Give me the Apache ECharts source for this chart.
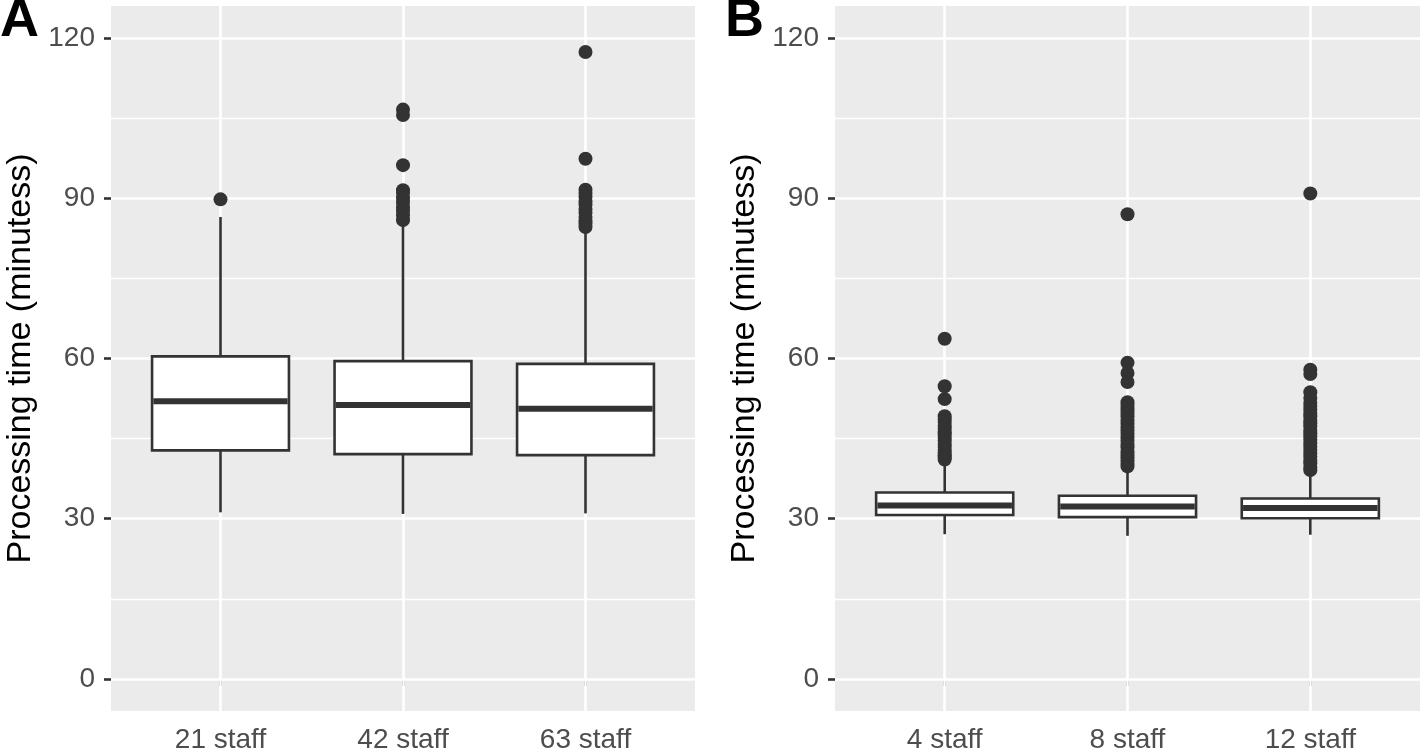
<!DOCTYPE html>
<html>
<head>
<meta charset="utf-8">
<script src="https://cdn.jsdelivr.net/npm/echarts@6/dist/echarts.min.js"></script>
<style>
html,body{margin:0;padding:0;background:#fff;}
#chart{width:1423px;height:748px;}
</style>
</head>
<body>
<div id="chart"></div>
<script>
// ---------------- DATA ----------------
const categoriesA = ['21 staff', '42 staff', '63 staff'];
const categoriesB = ['4 staff', '8 staff', '12 staff'];
const yTicks = [0, 30, 60, 90, 120];
const yMinorTicks = [15, 45, 75, 105];
const panelLabels = ['A', 'B'];
const yTitle = 'Processing time (minutess)';

// box stats: [lower whisker, Q1, median, Q3, upper whisker]
const boxA21 = [31.2, 42.8, 52.0, 60.4, 86.5];
const boxA42 = [30.9, 42.1, 51.3, 59.5, 85.3];
const boxA63 = [31.0, 41.9, 50.6, 59.0, 83.6];
const boxB4  = [27.1, 30.7, 32.5, 34.9, 40.8];
const boxB8  = [26.8, 30.3, 32.3, 34.3, 39.5];
const boxB12 = [27.0, 30.1, 32.0, 33.8, 38.6];

// outliers
const outA21 = [89.8];
const outA42 = [106.6, 105.6, 96.2, 91.5, 91.0, 90.0, 89.2, 88.3, 87.6, 86.8, 85.9];
const outA63 = [117.4, 97.4, 91.6, 91.0, 90.3, 89.4, 88.8, 88.0, 87.3, 86.5, 85.8, 85.3, 84.6];
const outB4  = [63.7, 54.8, 52.4, 49.2, 48.6, 48.1, 47.4, 46.9, 46.2, 45.8, 45.1, 44.6, 44.0, 43.5, 42.9, 42.4, 41.9, 41.5, 41.1];
const outB8  = [87.0, 59.2, 57.3, 55.6, 51.8, 51.2, 50.5, 49.9, 49.2, 48.4, 47.8, 47.1, 46.5, 45.9, 45.2, 44.6, 44.0, 43.4, 42.7, 42.1, 41.5, 40.9, 40.3, 39.8];
const outB12 = [90.9, 57.9, 57.1, 53.7, 52.6, 51.7, 51.1, 50.4, 49.8, 49.2, 48.5, 47.9, 47.3, 46.6, 46.0, 45.4, 44.8, 44.1, 43.5, 42.9, 42.2, 41.6, 41.0, 40.4, 39.7, 39.1];

// ---------------- STYLE ----------------
const INK = '#333333';
const FONT = '"Liberation Sans", Arial, Helvetica, sans-serif';
const BOX_WIDTH = 0.75;

function boxRows(boxes) {
  return boxes.map((b, i) => [i + 1].concat(b));
}
function outRows(lists) {
  const rows = [];
  lists.forEach((l, i) => l.forEach(v => rows.push([i + 1, v])));
  return rows;
}

function renderBox(params, api) {
  const x = api.value(0);
  const lo = api.coord([x, api.value(1)]);
  const q1 = api.coord([x, api.value(2)]);
  const md = api.coord([x, api.value(3)]);
  const q3 = api.coord([x, api.value(4)]);
  const hi = api.coord([x, api.value(5)]);
  const hw = api.size([BOX_WIDTH, 0])[0] / 2;
  const cx = q1[0];
  return {
    type: 'group',
    children: [
      {type: 'line', shape: {x1: cx, y1: lo[1], x2: cx, y2: q1[1]}, style: {stroke: INK, lineWidth: 2.6}},
      {type: 'line', shape: {x1: cx, y1: q3[1], x2: cx, y2: hi[1]}, style: {stroke: INK, lineWidth: 2.6}},
      {type: 'rect', shape: {x: cx - hw, y: q3[1], width: hw * 2, height: q1[1] - q3[1]},
        style: {fill: '#ffffff', stroke: INK, lineWidth: 2.6}},
      {type: 'line', shape: {x1: cx - hw + 1.3, y1: md[1], x2: cx + hw - 1.3, y2: md[1]}, style: {stroke: INK, lineWidth: 6}}
    ]
  };
}

function gridMarkLine() {
  const data = [];
  yTicks.forEach(v => data.push({yAxis: v, lineStyle: {width: 2.6}}));
  yMinorTicks.forEach(v => data.push({yAxis: v, lineStyle: {width: 1.3}}));
  [1, 2, 3].forEach(v => data.push({xAxis: v, lineStyle: {width: 2.6}}));
  return {
    silent: true, symbol: 'none', z: 1, animation: false,
    label: {show: false},
    lineStyle: {color: '#ffffff', type: 'solid'},
    emphasis: {disabled: true},
    data: data
  };
}

function xAxisFor(idx, cats) {
  return {
    type: 'value', gridIndex: idx, min: 0.4, max: 3.6,
    axisLine: {show: false},
    splitLine: {show: false},
    axisTick: {show: true, customValues: [1, 2, 3], length: 7, lineStyle: {color: INK, width: 2.6}},
    axisLabel: {show: true, customValues: [1, 2, 3], margin: 15, color: '#4D4D4D', fontSize: 28, fontFamily: FONT,
      formatter: v => cats[Math.round(v) - 1]}
  };
}
function yAxisFor(idx) {
  return {
    type: 'value', gridIndex: idx, min: -6, max: 126,
    name: yTitle, nameLocation: 'middle', nameRotate: 90, nameGap: 73,
    nameTextStyle: {color: '#000000', fontSize: 34, fontFamily: FONT},
    axisLine: {show: false},
    splitLine: {show: false},
    axisTick: {show: true, customValues: yTicks, length: 7, lineStyle: {color: INK, width: 2.6}},
    axisLabel: {show: true, customValues: yTicks, margin: 16, color: '#4D4D4D', fontSize: 28, fontFamily: FONT}
  };
}

const option = {
  animation: false,
  backgroundColor: '#ffffff',
  title: [
    {text: panelLabels[0], left: 0, top: -6, padding: 0,
      textStyle: {fontSize: 54, fontWeight: 'bold', color: '#000', fontFamily: FONT}},
    {text: panelLabels[1], left: 725, top: -6, padding: 0,
      textStyle: {fontSize: 54, fontWeight: 'bold', color: '#000', fontFamily: FONT}}
  ],
  grid: [
    {left: 111, top: 6, width: 584, height: 705, show: true, backgroundColor: '#EBEBEB', borderWidth: 0,
      outerBoundsMode: 'none', containLabel: false},
    {left: 835, top: 6, width: 585, height: 705, show: true, backgroundColor: '#EBEBEB', borderWidth: 0,
      outerBoundsMode: 'none', containLabel: false}
  ],
  xAxis: [xAxisFor(0, categoriesA), xAxisFor(1, categoriesB)],
  yAxis: [yAxisFor(0), yAxisFor(1)],
  series: [
    {type: 'scatter', xAxisIndex: 0, yAxisIndex: 0, data: [], z: 1, silent: true, markLine: gridMarkLine()},
    {type: 'scatter', xAxisIndex: 1, yAxisIndex: 1, data: [], z: 1, silent: true, markLine: gridMarkLine()},
    {type: 'custom', xAxisIndex: 0, yAxisIndex: 0, z: 5, renderItem: renderBox,
      encode: {x: 0, y: [1, 2, 3, 4, 5]}, data: boxRows([boxA21, boxA42, boxA63])},
    {type: 'custom', xAxisIndex: 1, yAxisIndex: 1, z: 5, renderItem: renderBox,
      encode: {x: 0, y: [1, 2, 3, 4, 5]}, data: boxRows([boxB4, boxB8, boxB12])},
    {type: 'scatter', xAxisIndex: 0, yAxisIndex: 0, z: 6, symbol: 'circle', symbolSize: 14,
      itemStyle: {color: INK, opacity: 1}, data: outRows([outA21, outA42, outA63])},
    {type: 'scatter', xAxisIndex: 1, yAxisIndex: 1, z: 6, symbol: 'circle', symbolSize: 14,
      itemStyle: {color: INK, opacity: 1}, data: outRows([outB4, outB8, outB12])}
  ]
};

const chart = echarts.init(document.getElementById('chart'), null, {renderer: 'canvas'});
chart.setOption(option);
</script>
</body>
</html>
